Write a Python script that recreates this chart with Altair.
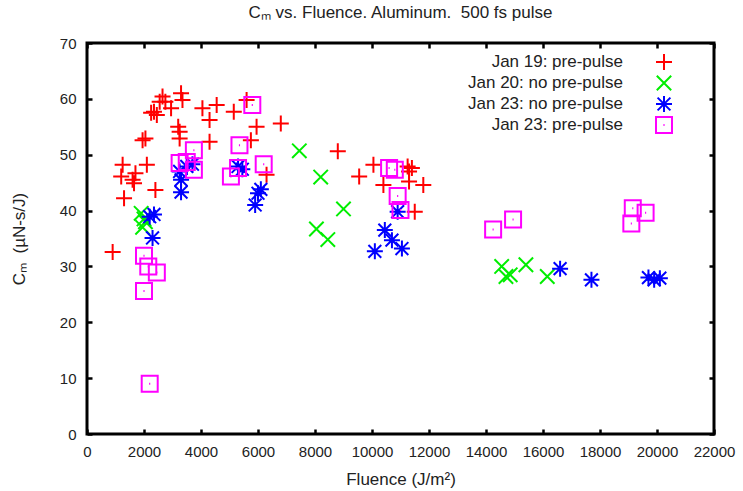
import altair as alt
import pandas as pd

series_names = ["Jan 19: pre-pulse", "Jan 20: no pre-pulse", "Jan 23: no pre-pulse", "Jan 23: pre-pulse"]
series_colors = ["#ff0000", "#00ee00", "#0000ff", "#ff00ff"]

jan19_x = [900, 1250, 1300, 1200, 1600, 1700, 1650, 1950, 2050, 2100, 2400, 2250, 2350, 2450,
           2550, 2650, 2750, 2950, 3300, 3350, 3200, 3250, 3250, 4050, 4300, 4300, 4550, 5150,
           5600, 5750, 5950, 6300, 6800, 8800, 9550, 10050, 10400, 11250, 11300, 11400, 11300,
           11800, 11500]
jan19_y = [32.6, 48.2, 42.2, 46.1, 45.5, 46.7, 44.9, 52.6, 52.9, 48.2, 43.7, 57.5, 57.7, 57.1,
           59.5, 60.4, 59.5, 58.3, 61.0, 59.8, 55.0, 54.1, 52.9, 58.3, 56.2, 52.3, 58.9, 57.7,
           59.8, 52.6, 55.0, 46.4, 55.6, 50.6, 46.1, 48.2, 44.6, 47.9, 47.0, 47.6, 45.2,
           44.6, 39.8]

jan20_x = [1900, 2000, 1950, 2050, 7450, 8200, 8050, 8450, 9000, 14550, 14700, 14850, 15400, 16150]
jan20_y = [39.5, 38.5, 37.0, 38.0, 50.7, 46.0, 36.7, 34.8, 40.3, 30.0, 28.2, 28.5, 30.3, 28.2]

jan23n_x = [2200, 2350, 2300, 3250, 3300, 3300, 3500, 3700, 5300, 5450, 6100, 6000, 5900,
            10900, 10450, 10700, 11050, 10100, 16600, 17700, 19700, 19900, 20100]
jan23n_y = [38.9, 39.3, 35.1, 47.0, 45.5, 43.3, 47.9, 48.3, 47.9, 47.4, 43.8, 43.1, 41.0,
            39.8, 36.5, 34.7, 33.2, 32.7, 29.6, 27.6, 28.0, 27.6, 27.9]

jan23p_x = [2000, 2150, 2450, 2000, 2200, 3250, 3500, 3750, 3750, 5050, 5300, 5350, 5800, 6200,
            10600, 10800, 10900, 11000, 14250, 14950, 19100, 19150, 19600]
jan23p_y = [31.9, 30.0, 28.9, 25.6, 9.0, 48.5, 48.7, 47.3, 50.8, 46.1, 47.6, 51.7, 58.9, 48.3,
            47.6, 47.3, 42.6, 40.1, 36.6, 38.4, 37.7, 40.4, 39.6]

x_ticks = list(range(0, 22001, 2000))
y_ticks = list(range(0, 71, 10))

rows = []
for name, xs, ys in zip(series_names,
                        [jan19_x, jan20_x, jan23n_x, jan23p_x],
                        [jan19_y, jan20_y, jan23n_y, jan23p_y]):
    for xv, yv in zip(xs, ys):
        rows.append({"series": name, "fluence": xv, "cm": yv})
df = pd.DataFrame(rows)

plus_path = "M-1,0H1M0,-1V1"
x_path = "M-0.9,-0.9L0.9,0.9M-0.9,0.9L0.9,-0.9"
star_path = "M-1,0H1M0,-1V1M-0.8,-0.8L0.8,0.8M-0.8,0.8L0.8,-0.8"
sq_path = "M-1,-1H1V1H-1ZM-0.07,0H0.07"
shapes = [plus_path, x_path, star_path, sq_path]

FONT = "Liberation Sans"
TXT = "#222222"

xscale = alt.Scale(domain=[0, 22000], nice=False, zero=False)
yscale = alt.Scale(domain=[0, 70], nice=False, zero=False)

legend = alt.Legend(
    title=None, orient="none", legendX=568, legendY=10, direction="vertical",
    labelAlign="right", labelOffset={"expr": "-50"}, labelFont=FONT, labelFontSize=17,
    labelColor=TXT, labelLimit=400, symbolSize=256, symbolStrokeWidth=2,
    rowPadding={"expr": "-3.5"}, padding=0, symbolFillColor="transparent",
)

base = alt.Chart(df)

main = base.mark_point(filled=False, strokeWidth=2, size=256, opacity=1).encode(
    x=alt.X("fluence:Q", scale=xscale,
            axis=alt.Axis(orient="bottom", values=x_ticks, format="d", title="Fluence (J/m²)",
                          offset=-5, tickSize=5, tickWidth=2.5, tickColor="black", domain=False,
                          grid=False, labelPadding=10, labelFont=FONT, labelFontSize=15,
                          labelOverlap=False, labelFlush=False,
                          labelColor=TXT, titleFont=FONT, titleFontSize=17,
                          titleFontWeight="normal", titleColor=TXT, titlePadding=12)),
    y=alt.Y("cm:Q", scale=yscale,
            axis=alt.Axis(orient="left", values=y_ticks, format="d", title="Cₘ\u00a0\u00a0(µN-s/J)",
                          offset=-5, tickSize=5, tickWidth=2.5, tickColor="black", domain=False,
                          grid=False, labelPadding=11, labelFont=FONT, labelFontSize=15,
                          labelOverlap=False, labelFlush=False,
                          labelColor=TXT, titleFont=FONT, titleFontSize=17,
                          titleFontWeight="normal", titleColor=TXT, titlePadding=31)),
    color=alt.Color("series:N", scale=alt.Scale(domain=series_names, range=series_colors), legend=legend),
    shape=alt.Shape("series:N", scale=alt.Scale(domain=series_names, range=shapes), legend=legend),
)

mirror = base.mark_point(opacity=0, size=1).encode(
    x=alt.X("fluence:Q", scale=xscale,
            axis=alt.Axis(orient="top", values=x_ticks, labels=False, title=None, offset=-5,
                          tickSize=5, tickWidth=2.5, tickColor="black", domain=False, grid=False)),
    y=alt.Y("cm:Q", scale=yscale,
            axis=alt.Axis(orient="right", values=y_ticks, labels=False, title=None, offset=-5,
                          tickSize=5, tickWidth=2.5, tickColor="black", domain=False, grid=False)),
)

chart = alt.layer(main, mirror).resolve_axis(x="independent", y="independent").properties(
    width=627, height=391,
    title=alt.Title("Cₘ vs. Fluence. Aluminum.\u00a0\u00a0500 fs pulse", font=FONT, fontSize=17,
                    fontWeight="normal", color=TXT, offset=14),
    autosize=alt.AutoSizeParams(type="none"),
    padding={"left": 87, "top": 43, "right": 29, "bottom": 57},
).configure(background="white").configure_view(stroke="black", strokeWidth=3, strokeOpacity=1)

chart.save("out.html", embed_options={"renderer": "svg", "actions": False})
